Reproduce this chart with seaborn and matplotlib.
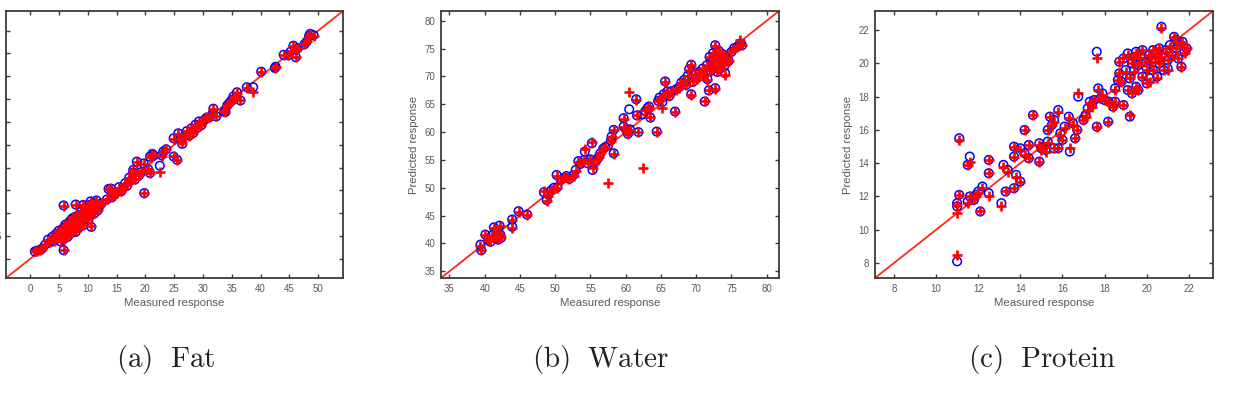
import matplotlib
matplotlib.use("Agg")
import matplotlib.pyplot as plt
import seaborn as sns
import pandas as pd

sns.set_theme(style="white")
plt.rcParams["font.family"] = ["Liberation Sans", "DejaVu Sans"]
plt.rcParams["mathtext.fontset"] = "cm"

# ---------------- data ----------------
# (a) Fat
fat_measured = [0.8, 1.2, 1.7, 2.1, 2.6, 3.1, 3.4, 3.8, 4.1, 4.4, 4.7, 4.9, 5.0, 5.2, 5.3, 5.5, 5.6, 5.8, 5.8, 5.8,
                5.9, 6.0, 6.1, 6.2, 6.3, 6.5, 6.5, 6.7, 6.8, 6.9, 7.0, 7.1, 7.2, 7.3, 7.4, 7.5, 7.6, 7.8, 7.9, 7.9,
                8.0, 8.1, 8.3, 8.4, 8.6, 8.7, 8.9, 9.0, 9.2, 9.2, 9.3, 9.5, 9.6, 9.8, 10.0, 10.1, 10.3, 10.4, 10.5, 10.6,
                10.8, 11.0, 11.1, 11.3, 11.5, 11.7, 12.0, 12.4,
                13.3, 13.6, 14.0, 14.2, 14.6, 15.0, 15.4, 15.8, 16.1, 16.5, 16.8, 17.2, 17.6, 17.9, 17.9, 18.2, 18.5, 18.9,
                19.3, 19.7, 19.8, 20.5, 20.8, 20.8, 21.2, 21.4, 22.5, 22.8, 23.1, 23.6, 24.9, 24.9, 25.5, 25.7, 26.1, 26.4,
                26.8, 27.2, 27.6, 28.0, 28.3, 28.7, 29.0, 29.3, 29.7, 30.2, 30.6, 31.1, 31.6, 31.8, 32.3, 33.7, 33.9, 34.2,
                34.6, 35.0, 35.3, 35.6, 35.9, 36.5, 37.6, 38.7, 40.1, 42.5, 42.6, 44.0, 44.8, 45.2, 45.7, 46.1, 46.2, 46.5,
                47.6, 48.0, 48.4, 48.6, 49.2]
fat_pred_o = [1.6, 1.8, 1.9, 2.3, 3.1, 4.2, 3.6, 4.8, 3.9, 5.4, 4.5, 6.1, 5.0, 5.7, 3.8, 6.5, 5.1, 4.3, 1.9, 11.7,
              6.9, 5.8, 7.5, 5.3, 6.3, 7.1, 4.8, 6.0, 8.1, 7.3, 5.6, 6.7, 8.7, 7.8, 6.2, 9.0, 7.1, 8.1, 5.9, 11.9,
              9.3, 7.6, 8.6, 6.8, 9.6, 8.0, 10.4, 8.8, 7.4, 11.8, 9.8, 10.8, 9.2, 11.5, 10.2, 8.6, 11.8, 9.6, 12.6, 7.0,
              10.8, 12.2, 9.9, 11.3, 12.8, 10.6, 11.6, 12.2,
              13.0, 15.3, 15.4, 13.5, 14.1, 14.6, 15.7, 14.8, 15.5, 16.6, 16.0, 17.8, 17.3, 18.9, 19.5, 17.4, 21.3, 18.3,
              19.0, 20.9, 14.4, 19.6, 22.4, 18.8, 23.0, 22.7, 20.4, 22.7, 23.5, 24.0, 22.4, 26.4, 21.7, 27.5, 26.2, 25.2,
              27.0, 28.0, 27.0, 28.6, 27.6, 29.4, 28.7, 30.1, 29.3, 30.4, 30.9, 31.0, 31.7, 32.9, 31.2, 32.2, 32.2, 33.6,
              34.2, 34.8, 35.6, 35.2, 36.5, 34.7, 37.6, 37.6, 41.0, 41.8, 42.1, 44.7, 44.6, 45.4, 46.7, 44.2, 45.9, 46.2,
              47.0, 47.6, 48.8, 49.3, 49.0]
fat_pred_p = [1.7, 1.8, 2.0, 2.2, 3.0, 4.1, 3.7, 4.7, 4.0, 5.3, 4.6, 6.0, 5.1, 5.6, 3.9, 6.4, 5.0, 4.4, 2.0, 11.6,
              6.8, 5.9, 7.4, 5.2, 6.4, 7.0, 4.9, 6.1, 8.0, 7.3, 5.7, 6.6, 8.6, 7.9, 6.3, 9.1, 7.1, 8.2, 6.0, 11.8,
              9.3, 7.5, 8.7, 6.9, 9.5, 8.1, 10.3, 8.9, 7.5, 11.7, 9.9, 10.7, 9.2, 11.4, 10.3, 8.7, 11.9, 9.5, 12.5, 7.1,
              10.9, 12.1, 10.0, 11.2, 12.7, 10.7, 11.5, 12.3,
              13.1, 15.2, 15.3, 13.6, 14.2, 14.5, 15.6, 14.9, 15.6, 16.5, 16.1, 17.7, 17.4, 18.8, 19.4, 17.5, 21.2, 18.4,
              19.1, 20.8, 14.5, 19.7, 22.3, 18.9, 22.9, 22.8, 19.1, 22.6, 23.4, 24.1, 22.5, 26.3, 21.6, 27.4, 26.1, 25.3,
              27.1, 27.9, 27.0, 28.7, 27.5, 29.3, 28.8, 30.0, 29.4, 30.3, 31.0, 31.1, 31.6, 32.8, 31.3, 32.3, 32.1, 33.7,
              34.1, 34.9, 35.5, 35.3, 36.4, 34.8, 37.5, 36.5, 40.9, 41.9, 42.0, 44.6, 44.7, 45.3, 46.6, 44.3, 45.8, 46.3,
              47.1, 47.7, 48.7, 49.2, 48.9]

# (b) Water
water_measured = [39.4, 39.5, 40.1, 40.5, 40.8, 41.0, 41.3, 41.5, 41.7, 41.9, 42.1, 42.2, 42.3, 43.9, 43.9, 44.8, 46.0,
                  48.4, 48.8, 49.0, 49.4, 49.8, 50.2, 50.3, 50.8, 51.3, 51.6, 52.0, 52.6, 52.9, 53.3, 53.6, 54.1, 54.2,
                  54.6, 55.0, 55.2, 55.3, 55.5, 55.9, 56.2, 56.4, 56.8, 57.1, 57.5, 57.9, 58.0, 58.3, 58.3, 59.7, 59.7,
                  60.1, 60.3, 60.5, 60.6, 61.5, 61.6, 61.8, 62.4, 62.8, 63.1, 63.3, 63.5, 64.4, 64.6, 64.8, 65.2, 65.4,
                  65.6, 65.9, 66.2, 66.6, 67.0, 67.2, 67.6, 67.9, 68.3, 68.6, 68.8, 69.0, 69.3, 69.3, 69.5, 69.8, 70.1,
                  70.4, 70.7, 70.9, 71.2, 71.3, 71.5, 71.6, 71.8, 71.9, 72.1, 72.2, 72.4, 72.5, 72.6, 72.7, 72.7, 72.8,
                  72.9, 73.0, 73.1, 73.2, 73.3, 73.4, 73.6, 73.8, 74.0, 74.1, 74.3, 74.6, 75.0, 75.4, 75.8, 76.2, 76.5]
water_pred_o = [39.8, 38.8, 41.6, 40.7, 40.3, 41.4, 42.9, 41.0, 42.2, 40.7, 43.2, 41.6, 41.0, 44.3, 43.0, 45.8, 45.2,
                49.2, 47.8, 48.8, 49.5, 50.0, 52.3, 50.1, 51.4, 51.8, 52.1, 51.6, 52.3, 53.2, 54.8, 54.3, 55.0, 56.5,
                54.4, 55.1, 58.0, 53.2, 54.4, 55.0, 55.6, 56.2, 57.0, 57.3, 57.6, 58.5, 59.2, 56.2, 60.4, 62.5, 61.0,
                60.4, 59.7, 64.1, 60.5, 65.9, 63.0, 60.0, 63.2, 63.8, 64.3, 64.6, 62.6, 60.1, 65.6, 66.2, 65.4, 66.8,
                69.1, 67.3, 66.5, 67.4, 63.7, 67.7, 68.1, 68.9, 69.4, 68.5, 70.1, 71.3, 72.1, 66.8, 69.0, 70.5, 69.7,
                70.8, 70.1, 71.4, 65.5, 70.6, 72.0, 69.5, 67.5, 73.5, 71.0, 72.6, 74.2, 71.6, 73.0, 67.9, 75.6, 72.4,
                73.6, 70.8, 72.0, 74.6, 71.3, 73.1, 72.5, 74.0, 71.9, 70.6, 73.4, 72.8, 74.4, 75.1, 75.3, 75.9, 75.6]
water_pred_p = [39.6, 38.9, 41.5, 40.6, 40.4, 41.3, 42.8, 41.1, 42.1, 40.8, 43.1, 41.5, 41.1, 44.2, 42.8, 45.6, 45.1,
                49.4, 47.6, 48.6, 49.4, 49.8, 52.2, 50.0, 51.3, 51.9, 52.0, 51.5, 52.2, 53.1, 54.7, 54.4, 55.0, 56.9,
                54.5, 55.0, 58.2, 53.6, 54.3, 55.1, 55.5, 56.3, 56.9, 57.2, 50.8, 58.4, 59.1, 56.1, 60.3, 62.4, 60.9,
                60.2, 59.6, 67.2, 60.4, 65.8, 63.0, 60.1, 53.5, 63.9, 64.2, 64.5, 62.7, 60.0, 65.5, 66.0, 64.4, 66.7,
                69.0, 67.2, 66.4, 67.3, 63.6, 67.6, 68.0, 68.8, 69.3, 68.4, 70.0, 71.2, 72.0, 66.6, 69.1, 70.4, 69.6,
                70.7, 70.2, 71.3, 65.6, 70.5, 71.9, 69.4, 67.6, 73.4, 71.1, 72.5, 74.1, 71.7, 73.1, 67.7, 75.4, 72.3,
                73.5, 70.9, 72.1, 74.5, 71.4, 73.2, 72.6, 73.9, 72.0, 70.2, 73.3, 72.7, 74.3, 75.0, 75.2, 76.5, 75.7]

# (c) Protein
protein_measured = [11.0, 11.0, 11.0, 11.1, 11.1, 11.5, 11.5, 11.6, 11.6, 11.8, 11.9, 12.0, 12.1, 12.2, 12.5, 12.5, 12.5,
                    13.1, 13.2, 13.3, 13.4, 13.7, 13.7, 13.7, 13.8, 14.0, 14.0, 14.2, 14.2, 14.4, 14.4, 14.6, 14.9, 14.9,
                    15.0, 15.1, 15.2, 15.3, 15.3, 15.4, 15.5, 15.6, 15.6, 15.8, 15.8, 15.9, 16.0, 16.1, 16.3, 16.35, 16.5,
                    16.6, 16.7, 16.75, 17.0, 17.1, 17.2, 17.3, 17.4, 17.5, 17.63, 17.63, 17.7, 17.8, 17.9, 18.0, 18.17,
                    18.2, 18.4, 18.5, 18.5, 18.63, 18.7, 18.7, 18.8, 18.9, 18.9, 19.0, 19.1, 19.1, 19.2, 19.2, 19.3, 19.3,
                    19.4, 19.4, 19.5, 19.5, 19.6, 19.6, 19.7, 19.8, 19.8, 19.9, 20.0, 20.0, 20.1, 20.15, 20.2, 20.3, 20.3,
                    20.4, 20.5, 20.5, 20.6, 20.6, 20.7, 20.7, 20.8, 20.9, 21.0, 21.0, 21.1, 21.2, 21.3, 21.4, 21.4, 21.5,
                    21.6, 21.65, 21.7, 21.8, 21.9]
protein_pred_o = [8.1, 11.6, 11.4, 15.5, 12.1, 11.7, 13.9, 14.4, 12.0, 11.8, 12.1, 12.3, 11.1, 12.6, 14.2, 13.4, 12.2,
                  11.6, 13.9, 12.3, 13.6, 15.0, 14.4, 12.5, 13.3, 12.9, 14.9, 16.0, 14.6, 14.3, 15.1, 16.9, 14.1, 15.2,
                  14.9, 15.0, 14.8, 16.0, 15.3, 16.8, 16.3, 16.6, 14.9, 17.2, 14.9, 15.8, 15.4, 16.2, 16.8, 14.7, 16.4,
                  15.5, 16.0, 18.0, 16.6, 16.9, 17.3, 17.7, 17.5, 17.8, 16.2, 20.7, 18.5, 17.9, 18.2, 17.8, 16.5,
                  17.7, 17.4, 18.5, 17.7, 19.0, 20.1, 19.4, 18.9, 17.5, 20.3, 19.6, 18.4, 20.6, 16.8, 19.1, 20.0, 18.2,
                  20.4, 19.6, 18.6, 20.7, 19.9, 18.4, 20.4, 19.2, 20.8, 20.1, 19.7, 18.8, 20.5, 19.1, 20.2, 20.8, 19.6,
                  20.3, 20.6, 19.2, 20.0, 20.9, 22.2, 20.4, 19.6, 20.8, 20.2, 19.7, 21.1, 20.5, 21.6, 20.9, 21.4, 20.3,
                  21.1, 19.8, 21.3, 20.7, 20.9]
protein_pred_p = [8.5, 11.0, 11.5, 15.4, 12.1, 11.6, 13.9, 14.1, 12.0, 11.9, 12.0, 12.2, 11.1, 12.5, 14.2, 13.4, 12.0,
                  11.4, 13.8, 12.3, 13.5, 15.0, 14.4, 12.5, 13.2, 12.9, 14.8, 16.0, 14.5, 14.3, 15.1, 16.9, 14.1, 15.1,
                  14.8, 15.0, 14.7, 16.0, 15.2, 16.8, 16.3, 16.5, 14.9, 17.1, 14.9, 15.7, 15.4, 16.1, 16.7, 14.9, 16.3,
                  15.5, 16.0, 18.2, 16.6, 16.8, 17.2, 17.6, 17.4, 17.8, 16.2, 20.3, 18.4, 17.9, 18.1, 17.8, 16.5,
                  17.6, 17.4, 18.4, 17.7, 19.0, 20.1, 19.4, 18.9, 17.5, 20.3, 19.5, 18.4, 20.5, 16.9, 19.1, 20.0, 18.2,
                  20.4, 19.5, 18.6, 20.6, 19.9, 18.4, 20.3, 19.2, 20.8, 20.1, 19.6, 18.8, 20.5, 18.9, 20.1, 20.8, 19.6,
                  20.3, 20.5, 19.1, 20.0, 20.9, 22.1, 20.4, 19.6, 20.7, 20.2, 19.6, 21.0, 20.5, 21.6, 20.9, 21.3, 20.3,
                  21.1, 19.8, 21.3, 20.6, 20.9]

captions = ["(a)", "(b)", "(c)"]
names = ["Fat", "Water", "Protein"]
ticks = [list(range(0, 51, 5)), list(range(35, 81, 5)), list(range(8, 23, 2))]
limits = [(-4.2, 54.3), (33.8, 81.75), (7.1, 23.15)]
panels = [(fat_measured, fat_pred_o, fat_pred_p),
          (water_measured, water_pred_o, water_pred_p),
          (protein_measured, protein_pred_o, protein_pred_p)]

W, H = 1236, 401
fig = plt.figure(figsize=(W / 100, H / 100), dpi=100)
axes_px = [(6, 343), (441, 779), (875, 1213)]
top_px, bot_px = 11, 278
caption_x = [166, 601, 1042]

frame = "#3a3a3a"
tickc = "#5a5a5a"

for i, ((xm, yo, yp), (l, r)) in enumerate(zip(panels, axes_px)):
    ax = fig.add_axes([l / W, (H - bot_px) / H, (r - l) / W, (bot_px - top_px) / H])
    df = pd.DataFrame({"measured": xm, "pred_o": yo, "pred_p": yp})
    lo, hi = limits[i]
    ax.axline((lo, lo), slope=1, color="#ff2a1a", lw=1.3, zorder=1)
    sns.scatterplot(data=df, x="measured", y="pred_o", ax=ax, marker="o", s=38,
                    facecolors="none", edgecolor="#0000ff", linewidth=1.1, zorder=2, legend=False)
    sns.scatterplot(data=df, x="measured", y="pred_p", ax=ax, marker="+", s=55,
                    color="#ff0000", linewidth=1.9, zorder=3, legend=False)
    ax.set_xlim(lo, hi)
    ax.set_ylim(lo, hi)
    ax.set_xticks(ticks[i])
    ax.set_yticks(ticks[i])
    ax.tick_params(direction="in", length=3, width=1.0, color=frame, labelcolor=tickc,
                   labelsize=7, top=True, right=True, bottom=True, left=True, pad=4)
    for sp in ax.spines.values():
        sp.set_color(frame)
        sp.set_linewidth(1.3)
    ax.set_xlabel("Measured response", fontsize=8.2, color="#5a5a5a", labelpad=3)
    ax.set_ylabel("Predicted response", fontsize=8.2, color="#5a5a5a", labelpad=4)
    fig.text(caption_x[i] / W, 1 - 359 / H, r"$\mathrm{" + captions[i] + r"\ \ " + names[i] + "}$",
             ha="center", va="center", fontsize=21, color="#222222")

fig.savefig("out.png", dpi=100)
